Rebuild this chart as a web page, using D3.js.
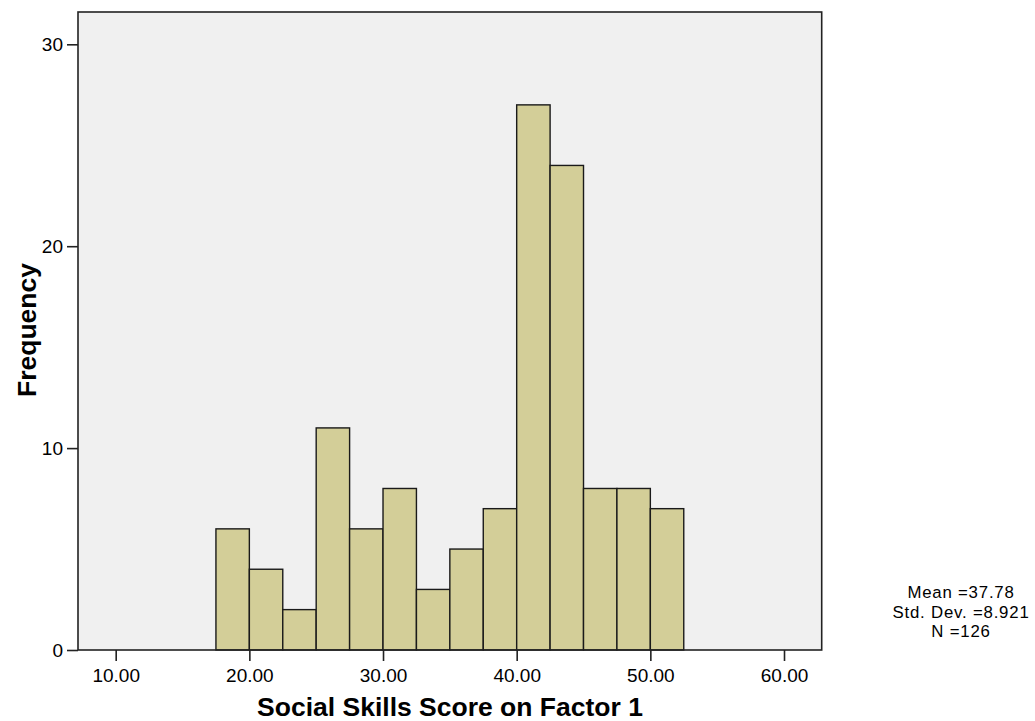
<!DOCTYPE html>
<html>
<head>
<meta charset="utf-8">
<script src="https://cdn.jsdelivr.net/npm/d3@7"></script>
<style>
  html, body { margin: 0; padding: 0; background: #ffffff; }
  svg { display: block; }
  text { font-family: "Liberation Sans", Arial, sans-serif; fill: #000; }
</style>
</head>
<body>
<svg id="chart" width="1035" height="721"></svg>
<script>
// ---- data ----
const binLower = [17.5, 20, 22.5, 25, 27.5, 30, 32.5, 35, 37.5, 40, 42.5, 45, 47.5, 50];
const binUpper = [20, 22.5, 25, 27.5, 30, 32.5, 35, 37.5, 40, 42.5, 45, 47.5, 50, 52.5];
const counts   = [6, 4, 2, 11, 6, 8, 3, 5, 7, 27, 24, 8, 8, 7];
const xTicks = [10, 20, 30, 40, 50, 60];
const yTicks = [0, 10, 20, 30];
const xDomain = [7.18, 62.82];
const yDomain = [0, 31.6];
const statsLines = ["Mean =37.78", "Std. Dev. =8.921", "N =126"];
const xTitle = "Social Skills Score on Factor 1";
const yTitle = "Frequency";

// ---- layout ----
const plot = { left: 78, right: 821.7, top: 12, bottom: 650 };
const svg = d3.select("#chart");

const x = d3.scaleLinear().domain(xDomain).range([plot.left, plot.right]);
const y = d3.scaleLinear().domain(yDomain).range([plot.bottom, plot.top]);

// background
svg.append("rect")
  .attr("x", plot.left).attr("y", plot.top)
  .attr("width", plot.right - plot.left).attr("height", plot.bottom - plot.top)
  .attr("fill", "#f0f0f0");

// bars
const bins = counts.map((c, i) => ({ lo: binLower[i], hi: binUpper[i], c }));
svg.append("g").selectAll("rect").data(bins).enter().append("rect")
  .attr("x", d => x(d.lo))
  .attr("y", d => y(d.c))
  .attr("width", d => x(d.hi) - x(d.lo))
  .attr("height", d => y(0) - y(d.c))
  .attr("fill", "#d3ce98")
  .attr("stroke", "#1a1a1a")
  .attr("stroke-width", 1.4);

// frame
svg.append("rect")
  .attr("x", plot.left).attr("y", plot.top)
  .attr("width", plot.right - plot.left).attr("height", plot.bottom - plot.top)
  .attr("fill", "none").attr("stroke", "#222").attr("stroke-width", 1.6);

// x axis
const xAxis = d3.axisBottom(x).tickValues(xTicks).tickFormat(d3.format(".2f"))
  .tickSize(11).tickPadding(8);
const gx = svg.append("g").attr("transform", `translate(0,${plot.bottom})`).call(xAxis);
gx.select(".domain").remove();
gx.selectAll(".tick line").attr("stroke", "#222").attr("stroke-width", 1.6);
gx.selectAll(".tick text").attr("font-size", 19).attr("fill", "#000")
  .style("font-family", "'Liberation Sans', Arial, sans-serif");

// y axis
const yAxis = d3.axisLeft(y).tickValues(yTicks).tickFormat(d3.format("d"))
  .tickSize(11).tickPadding(4);
const gy = svg.append("g").attr("transform", `translate(${plot.left},0)`).call(yAxis);
gy.select(".domain").remove();
gy.selectAll(".tick line").attr("stroke", "#222").attr("stroke-width", 1.6);
gy.selectAll(".tick text").attr("font-size", 19).attr("fill", "#000")
  .style("font-family", "'Liberation Sans', Arial, sans-serif");

// axis titles
svg.append("text")
  .attr("x", 450).attr("y", 716)
  .attr("text-anchor", "middle")
  .attr("font-size", 26.5).attr("font-weight", "bold")
  .text(xTitle);

svg.append("text")
  .attr("transform", `translate(36,${330}) rotate(-90)`)
  .attr("text-anchor", "middle")
  .attr("font-size", 26.5).attr("font-weight", "bold")
  .text(yTitle);

// stats
svg.append("g").selectAll("text").data(statsLines).enter().append("text")
  .attr("x", 961).attr("y", (d, i) => 598 + i * 19.7)
  .attr("text-anchor", "middle")
  .attr("font-size", 16.8).attr("letter-spacing", 0.8).attr("fill", "#000")
  .text(d => d);
</script>
</body>
</html>
